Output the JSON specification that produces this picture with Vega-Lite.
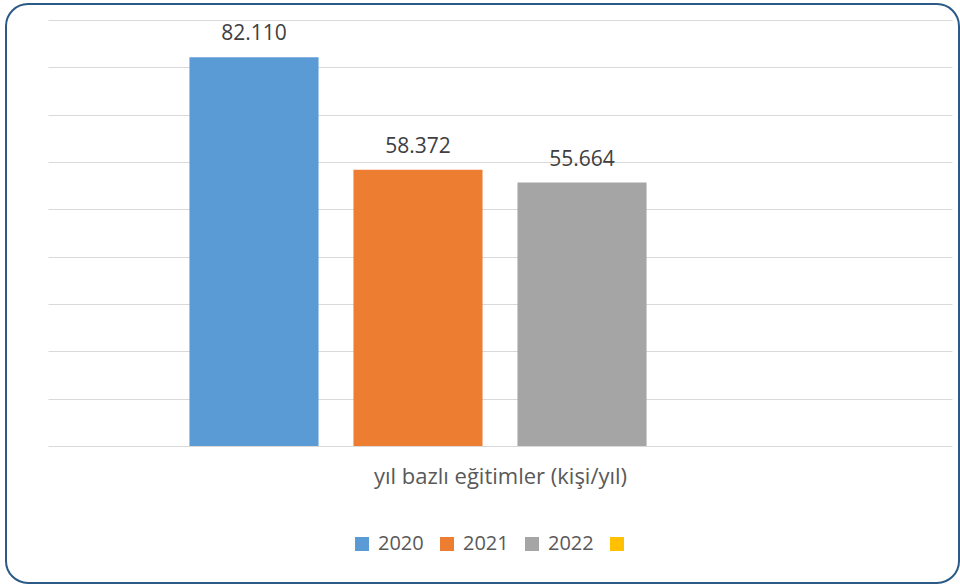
{
  "$schema": "https://vega.github.io/schema/vega-lite/v6.json",
  "autosize": "none",
  "padding": {"left": 6, "top": 4, "right": 1, "bottom": 1},
  "width": 953,
  "height": 579,
  "background": "white",
  "config": {
    "font": "Open Sans",
    "locale": {"number": {"decimal": ",", "thousands": ".", "grouping": [3], "currency": ["", " ₺"]}},
    "view": {"stroke": "#2B5A87", "strokeWidth": 2, "cornerRadius": 22, "fill": "white"}
  },
  "data": {"values": [
    {"year": "2020", "value": 82110},
    {"year": "2021", "value": 58372},
    {"year": "2022", "value": 55664}
  ]},
  "encoding": {
    "x": {
      "field": "year", "type": "nominal",
      "scale": {"domain": ["2020", "2021", "2022", " "], "range": [42, 946], "paddingInner": 0.213, "paddingOuter": 0.8625},
      "axis": {
        "orient": "bottom", "offset": -137, "labels": false, "ticks": false,
        "domain": true, "domainColor": "#D9D9D9", "domainWidth": 1,
        "title": "yıl bazlı eğitimler (kişi/yıl)", "titleFontSize": 22, "titleFontWeight": "normal",
        "titleColor": "#595959", "titlePadding": 20
      }
    },
    "y": {
      "field": "value", "type": "quantitative",
      "scale": {"domain": [0, 90000], "range": [442, 16], "nice": false, "zero": true},
      "axis": {
        "values": [10000, 20000, 30000, 40000, 50000, 60000, 70000, 80000, 90000],
        "grid": true, "gridColor": "#D9D9D9", "gridWidth": 1,
        "labels": false, "ticks": false, "domain": false, "title": null
      }
    }
  },
  "layer": [
    {
      "mark": {"type": "bar"},
      "encoding": {
        "color": {
          "field": "year", "type": "nominal",
          "scale": {"domain": ["2020", "2021", "2022", " "], "range": ["#5B9BD5", "#ED7D31", "#A5A5A5", "#FFC000"]},
          "legend": {
            "orient": "none", "legendX": 346, "legendY": 530, "direction": "horizontal",
            "title": null, "padding": 0, "symbolType": "square", "symbolSize": 196,
            "symbolStrokeWidth": 0, "labelFontSize": 20, "labelColor": "#595959",
            "labelOffset": 6, "columnPadding": 13
          }
        }
      }
    },
    {
      "mark": {"type": "text", "baseline": "alphabetic", "dy": -17, "fontSize": 21, "color": "#404040"},
      "encoding": {
        "text": {"field": "value", "type": "quantitative", "format": ",d"}
      }
    }
  ]
}
